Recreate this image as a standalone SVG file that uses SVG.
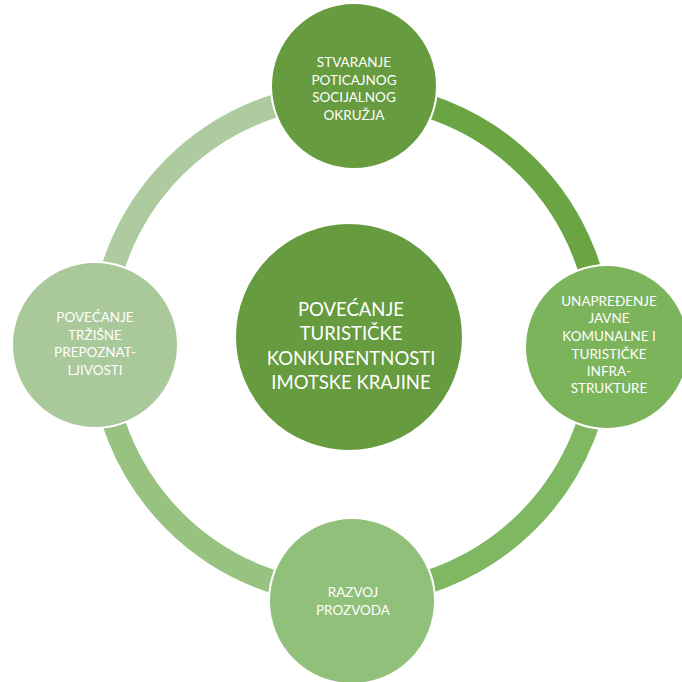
<svg xmlns="http://www.w3.org/2000/svg" width="682" height="682" viewBox="0 0 682 682">
<style>
.seg{fill:none;stroke-width:23;stroke-linecap:butt}
.node{stroke:#ffffff;stroke-width:2}
.t{font-family:Lato,"Liberation Sans","Noto Sans",sans-serif;fill:#ffffff;text-anchor:middle}
.s{font-size:13.5px}
.c{font-size:18.5px}
</style>
<rect width="682" height="682" fill="#ffffff"/>
<g id="connectors">
<path class="seg" stroke="#6aa443" d="M351 94 A250 250 0 0 1 601 344"/>
<path class="seg" stroke="#80b762" d="M601 344 A250 250 0 0 1 351 594"/>
<path class="seg" stroke="#97c280" d="M351 594 A250 250 0 0 1 101 344"/>
<path class="seg" stroke="#aecb9f" d="M101 344 A250 250 0 0 1 351 94"/>
</g>
<g id="center">
<circle class="node" cx="349" cy="337" r="114" fill="#669b40"/>
<text class="t c" x="351"><tspan x="351" y="315.5">POVEĆANJE</tspan><tspan x="351" y="340">TURISTIČKE</tspan><tspan x="351" y="364.5">KONKURENTNOSTI</tspan><tspan x="351" y="389">IMOTSKE KRAJINE</tspan></text>
</g>
<g id="top">
<circle class="node" cx="354" cy="86" r="83" fill="#669b40"/>
<text class="t s"><tspan x="354" y="67">STVARANJE</tspan><tspan x="354" y="85">POTICAJNOG</tspan><tspan x="354" y="102">SOCIJALNOG</tspan><tspan x="354" y="120">OKRUŽJA</tspan></text>
</g>
<g id="right">
<circle class="node" cx="607" cy="347" r="82" fill="#7cb45b"/>
<text class="t s"><tspan x="609" y="305.5">UNAPREĐENJE</tspan><tspan x="609" y="323">JAVNE</tspan><tspan x="609" y="340.5">KOMUNALNE I</tspan><tspan x="609" y="358.5">TURISTIČKE</tspan><tspan x="609" y="375.5">INFRA-</tspan><tspan x="609" y="393">STRUKTURE</tspan></text>
</g>
<g id="bottom">
<circle class="node" cx="352" cy="601" r="83" fill="#91c07a"/>
<text class="t s"><tspan x="353" y="597">RAZVOJ</tspan><tspan x="353" y="614.5">PROZVODA</tspan></text>
</g>
<g id="left">
<circle class="node" cx="95" cy="345" r="83" fill="#aac99b"/>
<text class="t s"><tspan x="95" y="322">POVEĆANJE</tspan><tspan x="95" y="339.5">TRŽIŠNE</tspan><tspan x="95" y="357">PREPOZNAT-</tspan><tspan x="95" y="375">LJIVOSTI</tspan></text>
</g>
</svg>
